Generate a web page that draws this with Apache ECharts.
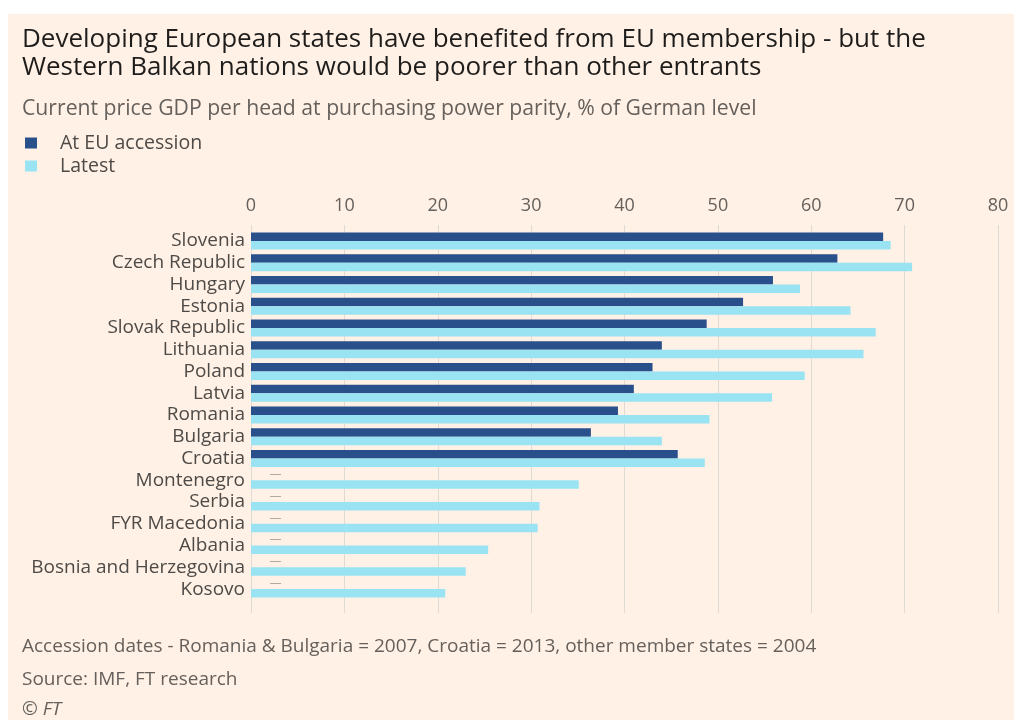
<!DOCTYPE html>
<html>
<head>
<meta charset="utf-8">
<script src="https://cdn.jsdelivr.net/npm/echarts@6/dist/echarts.min.js"></script>
<style>
body{margin:0;background:#fff;}
#main{position:absolute;left:8px;top:14px;width:1006px;height:706px;background:#fff1e5;}
</style>
</head>
<body>
<div id="main"></div>
<script>
// chart data
var countries = ['Slovenia','Czech Republic','Hungary','Estonia','Slovak Republic','Lithuania','Poland','Latvia','Romania','Bulgaria','Croatia','Montenegro','Serbia','FYR Macedonia','Albania','Bosnia and Herzegovina','Kosovo'];
var atAccession = [67.7,62.8,55.9,52.7,48.8,44.0,43.0,41.0,39.3,36.4,45.7,null,null,null,null,null,null];
var latest = [68.5,70.8,58.8,64.2,66.9,65.6,59.3,55.8,49.1,44.0,48.6,35.1,30.9,30.7,25.4,23.0,20.8];
var axisTicks = [0,10,20,30,40,50,60,70,80];

var font = 'Open Sans';
var dark = '#29508a', light = '#9ae3f3';

var accData = atAccession.map(function(v){
	if (v === null) {
		return {value:0, label:{show:true, formatter:'\u2014', position:'right', distance:19, color:'#9a9590', fontSize:11, offset:[0,-2]}};
	}
	return v;
});

var dom = document.getElementById('main');
var myChart = echarts.init(dom);
var option = {
	backgroundColor: '#fff1e5',
	animation: false,
	title: [
		{text: 'Developing European states have benefited from EU membership - but the\nWestern Balkan nations would be poorer than other entrants',
		 left: 9, top: 7,
		 textStyle: {fontFamily: font, fontSize: 26, fontWeight: 'normal', color: '#1f1d1c', lineHeight: 28}},
		{text: 'Current price GDP per head at purchasing power parity, % of German level',
		 left: 9, top: 79,
		 textStyle: {fontFamily: font, fontSize: 21.2, fontWeight: 'normal', color: '#66605c'}},
		{text: 'Accession dates - Romania & Bulgaria = 2007, Croatia = 2013, other member states = 2004',
		 left: 9, top: 618,
		 textStyle: {fontFamily: font, fontSize: 19, fontWeight: 'normal', color: '#66605c'}},
		{text: 'Source: IMF, FT research',
		 left: 9, top: 651,
		 textStyle: {fontFamily: font, fontSize: 19, fontWeight: 'normal', color: '#66605c'}},
		{text: '\u00a9 FT',
		 left: 9, top: 681,
		 textStyle: {fontFamily: font, fontSize: 19, fontWeight: 'normal', fontStyle: 'italic', color: '#66605c'}}
	],
	legend: {
		orient: 'vertical',
		left: 12, top: 114,
		icon: 'rect',
		itemWidth: 12, itemHeight: 11, itemGap: 3,
		textStyle: {fontFamily: font, fontSize: 19.5, color: '#4e4a47', padding: [0,0,0,18]},
		data: ['At EU accession','Latest']
	},
	grid: [
		{left: 243, right: 16, top: 216, height: 370},
		{left: 243, right: 16, top: 211, height: 388}
	],
	xAxis: [
		{gridIndex: 0, type: 'value', min: 0, max: 80, interval: 10, show: false},
		{gridIndex: 1, type: 'value', min: 0, max: 80, interval: 10, position: 'top',
		 axisLine: {show: false}, axisTick: {show: false},
		 axisLabel: {fontFamily: font, fontSize: 18, color: '#66605c', margin: 10,
			formatter: function(v){ return axisTicks.indexOf(v) >= 0 ? v : ''; }},
		 splitLine: {lineStyle: {color: '#e0dad5', width: 1}}}
	],
	yAxis: [
		{gridIndex: 0, type: 'category', data: countries, inverse: true,
		 axisLine: {show: false}, axisTick: {show: false},
		 axisLabel: {fontFamily: font, fontSize: 19, color: '#4e4a47', margin: 6, interval: 0, lineHeight: 20, padding: [4,0,0,0]}},
		{gridIndex: 1, type: 'category', data: countries, show: false}
	],
	series: [
		{name: 'At EU accession', type: 'bar', xAxisIndex: 0, yAxisIndex: 0,
		 data: accData, barWidth: 8.5, barGap: '0%', itemStyle: {color: dark}},
		{name: 'Latest', type: 'bar', xAxisIndex: 0, yAxisIndex: 0,
		 data: latest, barWidth: 8.5, barGap: '0%', itemStyle: {color: light}}
	]
};
if (option && typeof option === "object") {
	myChart.setOption(option, true);
}
</script>
</body>
</html>
